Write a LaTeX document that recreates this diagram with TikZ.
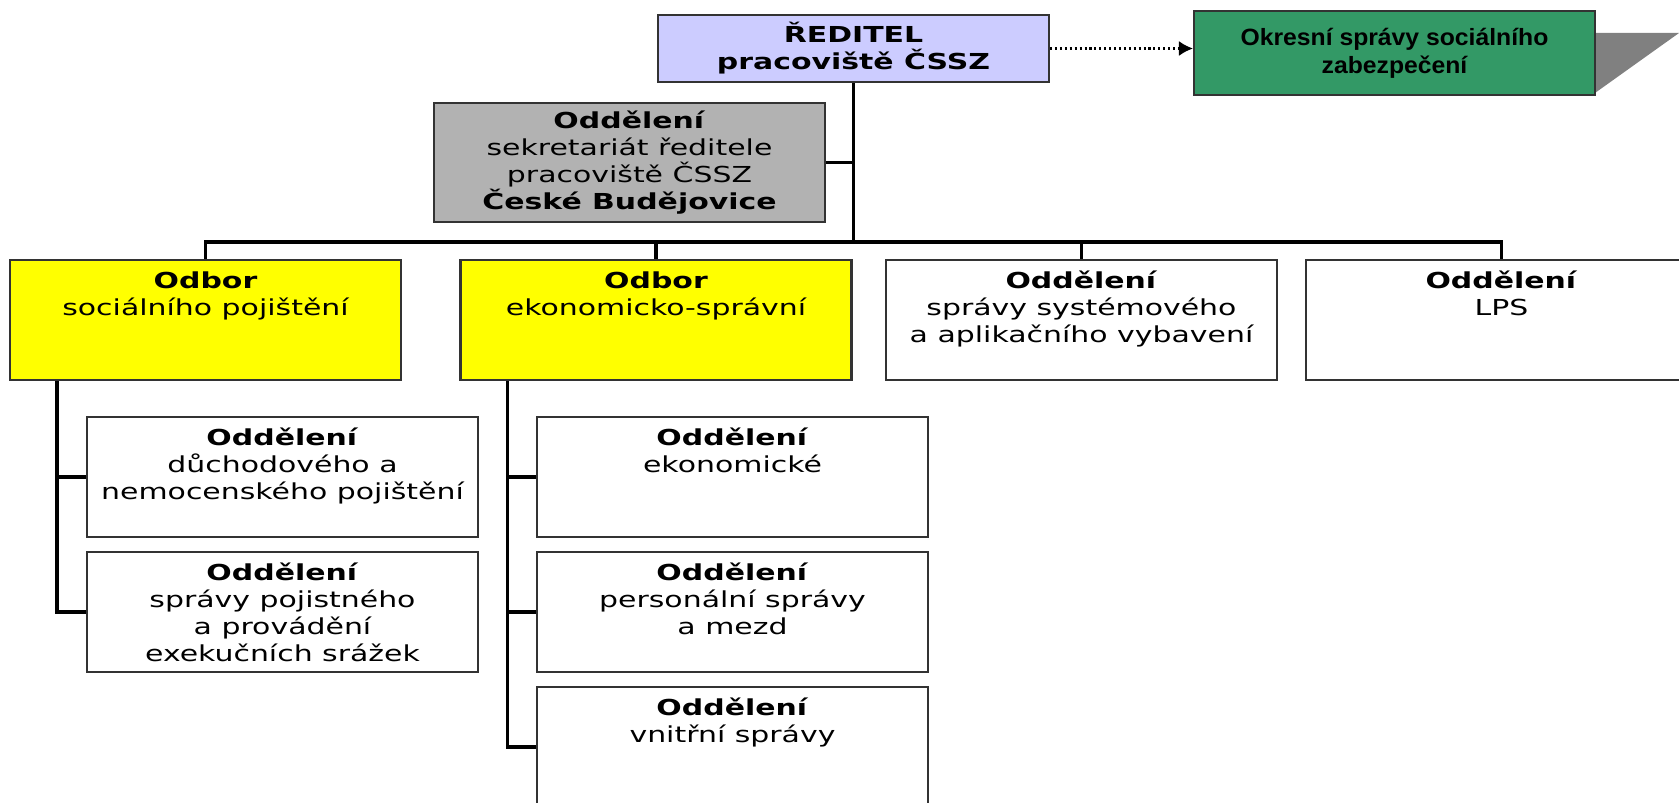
\documentclass[tikz,border=0pt]{standalone}
\usepackage{fontspec}
\setmainfont{DejaVu Sans}[FakeStretch=1.36]
\newfontfamily\okresfont{Liberation Sans}[FakeStretch=1.05]
\usepackage{xcolor}
\usetikzlibrary{arrows.meta}

\definecolor{lavender}{HTML}{CCCCFF}
\definecolor{sekrgrey}{HTML}{B2B2B2}
\definecolor{odboryellow}{HTML}{FFFF00}
\definecolor{okresgreen}{HTML}{339966}
\definecolor{shadowgrey}{HTML}{808080}

\newcommand{\unittext}[2]{\parbox[c][1.2cm][t]{3.91cm}{\centering\rule{0pt}{2.85mm}\textbf{#1}\\#2}}

\begin{document}
\begin{tikzpicture}[
    font=\fontsize{6.26pt}{7.68pt}\selectfont,
    box/.style={draw=black!80, line width=0.6pt, inner sep=0pt, minimum width=3.91cm},
    unit/.style={box, minimum height=1.2cm},
    link/.style={line width=1pt},
    dotlink/.style={line width=0.6pt, dash pattern=on 0.6pt off 0.8pt, -{Latex[length=1.4mm,width=1.5mm]}}
  ]
            \useasboundingbox (0, 0) rectangle (16.79, -8.03);
            \fill[shadowgrey] (15.95, -0.33) -- (16.79, -0.33) -- (15.95, -0.93) -- cycle;
            \node[box, fill=lavender, minimum height=0.67cm, align=center] (reditel) at (8.535, -0.485) {\textbf{ŘEDITEL}\\\textbf{pracoviště ČSSZ}};
            \node[box, fill=okresgreen, minimum width=4.01cm, minimum height=0.84cm, align=center,
              font=\okresfont\fontsize{6.7pt}{8pt}\selectfont\bfseries] (okresni) at (13.945, -0.53) {Okresní správy sociálního\\zabezpečení};
            \node[box, fill=sekrgrey, minimum height=1.19cm, align=center] (sekretariat) at (6.295, -1.625) {\textbf{Oddělení}\\sekretariát ředitele\\pracoviště ČSSZ\\\textbf{České Budějovice}};
            \coordinate (bus) at (0, -2.42);
            \node[unit, fill=odboryellow] (socialni) at (2.055, -3.20) {\unittext{Odbor}{sociálního pojištění}};
            \node[unit, fill=odboryellow] (ekonomicky) at (6.56, -3.20) {\unittext{Odbor}{ekonomicko-správní}};
            \node[unit] (systemove) at (10.815, -3.20) {\unittext{Oddělení}{správy systémového\\a aplikačního vybavení}};
            \node[unit] (lps) at (15.015, -3.20) {\unittext{Oddělení}{LPS}};
            \node[unit] (duchodove) at (2.825, -4.77) {\unittext{Oddělení}{důchodového a\\nemocenského pojištění}};
            \node[unit] (pojistne) at (2.825, -6.12) {\unittext{Oddělení}{správy pojistného\\a provádění\\exekučních srážek}};
            \node[unit] (ekonomicke) at (7.325, -4.77) {\unittext{Oddělení}{ekonomické}};
            \node[unit] (personalni) at (7.325, -6.12) {\unittext{Oddělení}{personální správy\\a mezd}};
            \node[unit] (vnitrni) at (7.325, -7.47) {\unittext{Oddělení}{vnitřní správy}};
            \coordinate (socline) at ([xshift=4.8mm]socialni.south west);
            \coordinate (ekoline) at ([xshift=4.8mm]ekonomicky.south west);
            \draw[dotlink] (reditel.east) -- (reditel.east -| okresni.west);
            \draw[link] (reditel.south) -- (reditel |- bus);
            \draw[link] (sekretariat.east) -- (sekretariat -| reditel);
            \draw[link] (socialni.north) -- (socialni |- bus) -- (lps |- bus) -- (lps.north);
            \draw[link] (ekonomicky.north) -- (ekonomicky |- bus);
            \draw[link] (systemove.north) -- (systemove |- bus);
            \draw[link] (socline) |- (pojistne.west);
            \draw[link] (duchodove.west) -- (duchodove -| socline);
            \draw[link] (ekoline) |- (vnitrni.west);
            \draw[link] (ekonomicke.west) -- (ekonomicke -| ekoline);
            \draw[link] (personalni.west) -- (personalni -| ekoline);
          \end{tikzpicture}
\end{document}
